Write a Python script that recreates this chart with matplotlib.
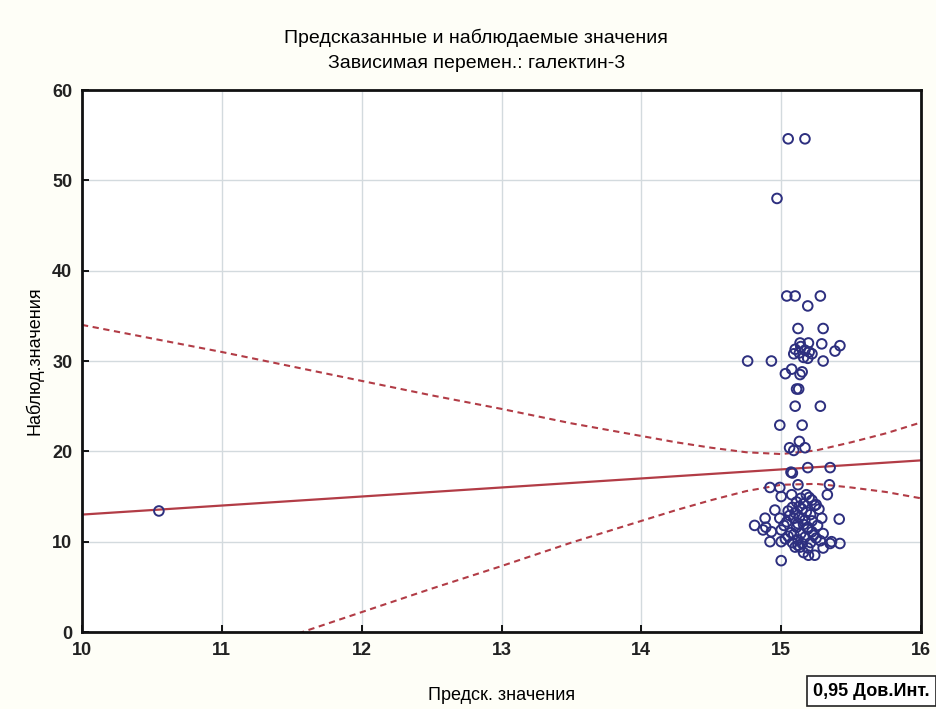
import matplotlib.pyplot as plt

# --- данные ---
pred = [
    10.55,
    15.05, 15.17, 14.97,
    15.04, 15.10, 15.28, 15.19,
    15.12, 15.30,
    15.135, 15.195, 15.29, 15.42, 15.385,
    15.10, 15.14, 15.17, 15.20, 15.09, 15.13, 15.16, 15.19, 15.22,
    14.76, 14.93, 15.30,
    15.03, 15.075, 15.135, 15.15,
    15.11, 15.125, 15.10, 15.28,
    14.99, 15.15, 15.13,
    15.06, 15.09, 15.17,
    15.07, 15.08, 15.19, 15.35,
    14.92, 14.99, 15.12, 15.345, 15.33,
    15.00, 15.075, 15.18, 15.22,
    15.11, 15.16, 15.25, 15.14, 15.20,
    14.955, 15.05, 15.10, 15.15, 15.21, 15.27, 15.13, 15.08, 15.24, 15.18,
    14.885, 14.99, 15.09, 15.17, 15.29, 15.415, 15.04, 15.12, 15.22,
    14.81, 14.89, 15.02, 15.11, 15.19, 15.26,
    14.87, 14.93, 15.00, 15.07, 15.14, 15.22, 15.30, 15.05, 15.17,
    14.92, 15.00, 15.08, 15.15, 15.21, 15.28, 15.36, 15.42, 15.03, 15.12, 15.25,
    15.10, 15.135, 15.19, 15.30, 15.35,
    15.195, 15.24, 15.16,
    15.00,
    15.06, 15.13, 15.19, 15.09, 15.16, 15.23, 15.12,
]
obs = [
    13.4,
    54.6, 54.6, 48.0,
    37.2, 37.2, 37.2, 36.1,
    33.6, 33.6,
    32.0, 32.0, 31.9, 31.7, 31.1,
    31.3, 31.6, 31.2, 31.0, 30.8, 30.9, 30.4, 30.3, 30.8,
    30.0, 30.0, 30.0,
    28.6, 29.1, 28.5, 28.8,
    26.9, 26.9, 25.0, 25.0,
    22.9, 22.9, 21.1,
    20.4, 20.1, 20.4,
    17.7, 17.6, 18.2, 18.2,
    16.0, 16.0, 16.3, 16.3, 15.2,
    15.0, 15.2, 15.2, 14.6,
    14.4, 14.2, 14.1, 14.8, 14.9,
    13.5, 13.4, 13.2, 13.6, 13.0, 13.6, 13.9, 13.8, 14.0, 13.3,
    12.6, 12.6, 12.6, 12.4, 12.6, 12.5, 12.2, 12.0, 12.3,
    11.8, 11.6, 11.8, 11.6, 11.6, 11.8,
    11.3, 11.1, 11.3, 11.0, 10.9, 11.1, 10.9, 10.6, 10.5,
    10.0, 10.0, 9.9, 9.8, 9.9, 10.1, 10.0, 9.8, 10.3, 10.2, 10.4,
    9.4, 9.4, 9.3, 9.3, 9.8,
    8.5, 8.5, 8.8,
    7.9,
    12.9, 12.7, 11.4, 10.8, 11.9, 10.7, 9.6,
]

# линия регрессии
fit_x = [10, 16]
fit_y = [13, 19]

# границы 0,95 дов. интервала
band_x = [10, 10.5, 11, 11.5, 12, 12.5, 13, 13.5, 14, 14.25, 14.5, 14.75, 15, 15.25, 15.5, 15.75, 16]
band_hi = [34.0, 32.5, 31.0, 29.4, 27.8, 26.2, 24.7, 23.1, 21.7, 21.0, 20.4, 19.9, 19.7, 20.1, 21.0, 22.0, 23.2]
band_lo = [-8.0, -5.5, -2.9, -0.4, 2.2, 4.8, 7.3, 9.9, 12.3, 13.5, 14.6, 15.6, 16.3, 16.4, 16.0, 15.5, 14.8]

x_ticks = [10, 11, 12, 13, 14, 15, 16]
y_ticks = [0, 10, 20, 30, 40, 50, 60]

plt.rcParams['font.family'] = ['Liberation Sans', 'DejaVu Sans']

fig = plt.figure(figsize=(9.36, 7.09), dpi=100)
fig.patch.set_facecolor('#fefef7')
ax = fig.add_axes([0.0876, 0.1086, 0.8964, 0.7644])
ax.set_facecolor('white')

linecol = '#b23c46'
ax.plot(fit_x, fit_y, color=linecol, lw=1.6, zorder=2)
ax.plot(band_x, band_hi, color=linecol, lw=1.5, ls=(0, (3, 2.2)), zorder=2)
ax.plot(band_x, band_lo, color=linecol, lw=1.5, ls=(0, (3, 2.2)), zorder=2)

ax.scatter(pred, obs, s=48, facecolors='none', edgecolors='#2d2f7f',
           linewidths=1.4, zorder=3)

ax.set_xlim(10, 16)
ax.set_ylim(0, 60)
ax.set_xticks(x_ticks)
ax.set_yticks(y_ticks)
ax.grid(True, color='#d3dade', lw=1.0, zorder=0)
ax.set_axisbelow(True)
ax.tick_params(direction='in', length=5, width=1.3, labelsize=13, pad=7)
for lab in ax.get_xticklabels() + ax.get_yticklabels():
    lab.set_fontweight('bold')
    lab.set_color('#222222')
for sp in ax.spines.values():
    sp.set_linewidth(2)
    sp.set_color('#111111')

ax.set_xlabel('Предск. значения', fontsize=13, labelpad=20)
ax.set_ylabel('Наблюд.значения', fontsize=13, labelpad=6)

fig.text(0.509, 0.947, 'Предсказанные и наблюдаемые значения',
         ha='center', va='center', fontsize=14)
fig.text(0.509, 0.911, 'Зависимая перемен.: галектин-3',
         ha='center', va='center', fontsize=14)

fig.text(0.869, 0.025, '0,95 Дов.Инт.', ha='left', va='center',
         fontsize=13, fontweight='bold',
         bbox=dict(boxstyle='square,pad=0.35', facecolor='white',
                   edgecolor='#222222', lw=1.2))

fig.savefig('out.png', dpi=100, facecolor=fig.get_facecolor())
